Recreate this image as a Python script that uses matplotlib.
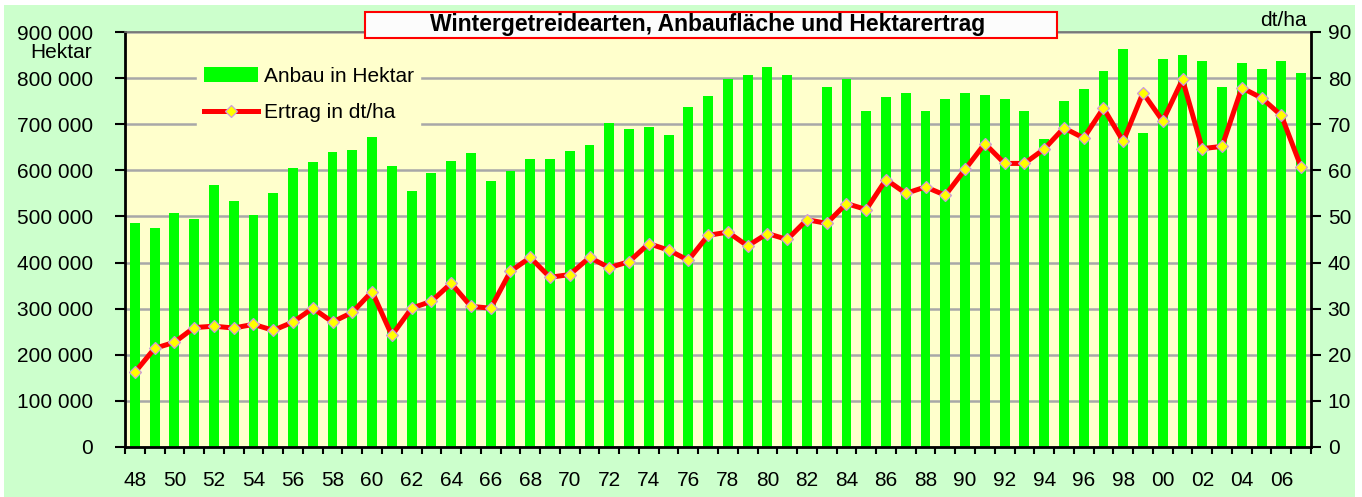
import matplotlib
matplotlib.use('Agg')
import matplotlib.pyplot as plt
import numpy as np
from matplotlib.patches import Rectangle, Patch
from matplotlib.lines import Line2D

plt.rcParams['font.family'] = ['Liberation Sans', 'DejaVu Sans']

# ---------------- data ----------------
years = list(range(1948, 2008))
area_ha = [485000, 476000, 507000, 494000, 568000, 533000, 503000, 550000,
           605000, 618000, 640000, 645000, 672000, 610000, 555000, 594000,
           620000, 637000, 576000, 598000, 624000, 624000, 641000, 654000,
           702000, 689000, 693000, 676000, 737000, 762000, 798000, 807000,
           824000, 807000, 492000, 780000, 797000, 728000, 758000, 767000,
           728000, 754000, 767000, 763000, 754000, 728000, 667000, 750000,
           776000, 815000, 863000, 680000, 841000, 850000, 837000, 780000,
           833000, 820000, 837000, 811000]
yield_dtha = [16.2, 21.4, 22.7, 25.9, 26.2, 25.8, 26.6, 25.3,
              27.1, 30.1, 27.1, 29.2, 33.7, 24.2, 30.1, 31.6,
              35.5, 30.5, 30.1, 38.1, 41.1, 36.8, 37.4, 41.1,
              38.9, 40.2, 44.1, 42.7, 40.5, 45.9, 46.6, 43.6,
              46.3, 45.0, 49.3, 48.5, 52.8, 51.5, 58.0, 55.0,
              56.4, 54.6, 60.2, 65.8, 61.5, 61.5, 64.6, 69.2,
              67.0, 73.5, 66.3, 76.8, 70.7, 79.7, 64.7, 65.2,
              77.9, 75.7, 71.9, 60.7]
xtick_labels = [f"{y % 100:02d}" for y in years[::2]]
left_ticks = list(range(0, 900001, 100000))
left_tick_labels = [f"{v:,}".replace(",", " ") for v in left_ticks]
right_ticks = list(range(0, 91, 10))

title = "Wintergetreidearten, Anbaufläche und Hektarertrag"
bar_label = "Anbau in Hektar"
line_label = "Ertrag in dt/ha"

# ---------------- figure ----------------
W, H = 1362, 497
fig = plt.figure(figsize=(W / 100, H / 100), dpi=100)
fig.patch.set_facecolor('white')
fig.patches.append(Rectangle((4 / W, 0), (1355 - 4) / W, (H - 5) / H,
                             transform=fig.transFigure, facecolor='#CCFFCC',
                             edgecolor='none', zorder=-10))

ax = fig.add_axes([125 / W, 1 - 447 / H, (1311 - 125) / W, (447 - 32) / H])
ax.set_facecolor('#FFFFCC')
x = np.arange(len(years))
ax.bar(x, area_ha, width=0.5, color='#00FF00', zorder=2)
ax.set_xlim(-0.5, len(years) - 0.5)
ax.set_ylim(0, 900000)
ax.set_yticks(left_ticks)
ax.set_yticklabels(left_tick_labels, fontsize=15)
ax.yaxis.grid(True, color='#A8A8A8', lw=1.8)
ax.set_axisbelow(True)

ax.set_xticks(x[::2])
ax.set_xticklabels(xtick_labels, fontsize=15)
ax.set_xticks(np.arange(-0.5, len(years), 1), minor=True)
ax.tick_params(axis='x', which='major', length=0, pad=17)
ax.tick_params(axis='x', which='minor', length=5, width=1.5, direction='out', color='black')
ax.tick_params(axis='y', which='major', length=7, width=1.5, direction='out', pad=16)

for s in ['left', 'bottom']:
    ax.spines[s].set_color('black')
    ax.spines[s].set_linewidth(2)
ax.spines['top'].set_color('#707070')
ax.spines['top'].set_linestyle((0, (2, 1)))
ax.spines['top'].set_linewidth(1.2)
ax.spines['right'].set_visible(False)

ax2 = ax.twinx()
ax2.plot(x, yield_dtha, color='#FF0000', lw=3.6, marker='D', ms=6.5,
         mfc='#FFFF00', mec='#CC99DD', mew=0.9, zorder=3)
ax2.set_ylim(0, 90)
ax2.set_yticks(right_ticks)
ax2.set_yticklabels([str(v) for v in right_ticks], fontsize=15)
ax2.tick_params(axis='y', length=7, width=1.5, direction='out', pad=5)
ax2.spines['right'].set_color('black')
ax2.spines['right'].set_linewidth(2)
for s in ['left', 'top', 'bottom']:
    ax2.spines[s].set_visible(False)

handles = [Patch(facecolor='#00FF00', edgecolor='none', label=bar_label),
           Line2D([], [], color='#FF0000', lw=3.6, marker='D', ms=6.5,
                  mfc='#FFFF00', mec='#CC99DD', mew=0.9, label=line_label)]
leg = ax2.legend(handles=handles, loc='upper left',
                 bbox_to_anchor=(187 / W, 1 - 50 / H), bbox_transform=fig.transFigure,
                 fontsize=15, frameon=True, facecolor='#FFFFCC', edgecolor='#FFFFCC',
                 fancybox=False, framealpha=1, handlelength=2.6, handletextpad=0.3,
                 labelspacing=0.85, borderpad=0.3, numpoints=1)

fig.text(61 / W, 1 - 52 / H, 'Hektar', ha='center', va='center', fontsize=15)
fig.text(1307 / W, 1 - 20 / H, 'dt/ha', ha='right', va='center', fontsize=15)

fig.patches.append(Rectangle((365 / W, 1 - 38.3 / H), 692 / W, 26.6 / H,
                             transform=fig.transFigure, facecolor='#FCFCFC',
                             edgecolor='#FF0000', lw=1.5, zorder=5))
fig.text(708 / W, 1 - 25 / H, title, ha='center', va='center', fontsize=16.5,
         fontweight='bold', zorder=6)

fig.savefig('out.png', dpi=100, facecolor=fig.get_facecolor())
